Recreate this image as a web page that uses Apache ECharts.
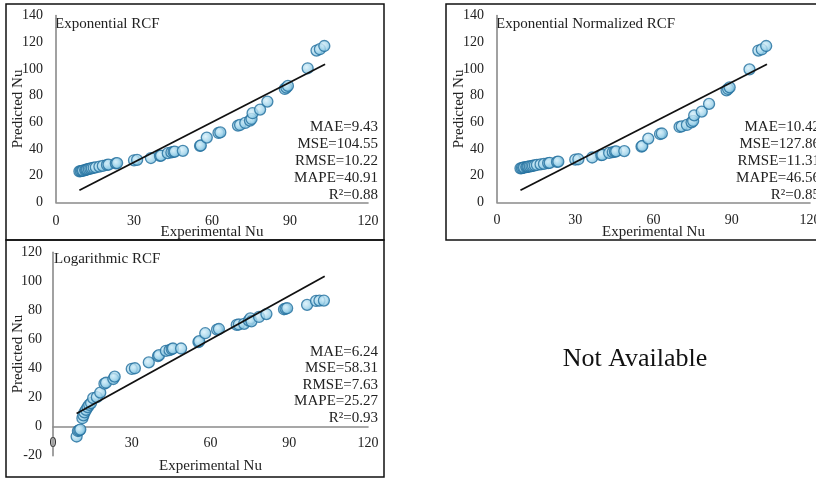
<!DOCTYPE html>
<html><head><meta charset="utf-8">
<script src="https://cdn.jsdelivr.net/npm/echarts@6/dist/echarts.min.js"></script>
<style>html,body{margin:0;padding:0;background:#fff}#c{width:816px;height:479px}</style>
</head><body><div id="c"></div>
<script>
// ---- data ----
const experimentalNu = [9.0, 9.5, 10.0, 10.4, 11.2, 11.6, 12.0, 12.6, 13.2, 13.8, 14.5, 15.3, 16.7, 18.0, 19.6, 20.2, 23.0, 23.5, 30.0, 31.2, 36.5, 40.0, 40.4, 43.0, 44.4, 45.2, 45.7, 48.8, 55.4, 55.7, 58.0, 62.5, 63.2, 70.0, 70.8, 72.8, 74.6, 75.2, 75.6, 78.5, 81.3, 88.0, 88.6, 89.2, 96.8, 100.2, 101.5, 103.2];
const predExponential = [23.2, 23.4, 23.6, 23.8, 24.2, 24.4, 24.7, 25.0, 25.3, 25.6, 25.9, 26.2, 26.8, 27.3, 28.0, 28.3, 29.2, 29.4, 31.5, 31.8, 33.2, 34.8, 35.0, 36.8, 37.4, 37.8, 38.0, 38.6, 42.3, 42.6, 48.5, 52.0, 52.4, 57.5, 58.0, 59.5, 61.3, 62.5, 66.8, 69.5, 75.5, 85.0, 86.0, 87.3, 100.5, 113.8, 114.8, 117.2];
const predExpNormalized = [25.5, 25.7, 25.9, 26.1, 26.4, 26.6, 26.8, 27.0, 27.2, 27.4, 27.7, 28.0, 28.4, 28.8, 29.4, 29.6, 30.3, 30.5, 32.0, 32.3, 33.6, 35.3, 35.5, 37.0, 37.6, 38.0, 38.2, 38.4, 41.8, 42.2, 47.8, 51.2, 51.6, 56.5, 56.9, 58.0, 60.0, 61.0, 65.2, 68.0, 73.8, 84.0, 85.0, 86.2, 99.7, 113.8, 114.6, 117.2];
const predLogarithmic = [-6.8, -3.0, -2.6, -2.0, 5.8, 7.8, 9.8, 11.5, 13.4, 15.0, 16.2, 19.6, 20.3, 23.4, 29.6, 30.2, 32.8, 34.4, 39.7, 40.2, 44.2, 48.6, 49.2, 52.2, 52.6, 53.4, 53.8, 53.8, 58.2, 58.8, 64.3, 66.8, 67.2, 70.0, 70.3, 70.8, 73.0, 74.5, 72.5, 75.5, 77.5, 80.8, 81.2, 81.5, 83.8, 86.5, 86.7, 86.8];
const idealRange = [9, 103.5];
const panelTitles = ['Exponential RCF', 'Exponential Normalized RCF', 'Logarithmic RCF'];
const statsExponential = ['MAE=9.43', 'MSE=104.55', 'RMSE=10.22', 'MAPE=40.91', 'R²=0.88'];
const statsExpNormalized = ['MAE=10.42', 'MSE=127.86', 'RMSE=11.31', 'MAPE=46.56', 'R²=0.85'];
const statsLogarithmic = ['MAE=6.24', 'MSE=58.31', 'RMSE=7.63', 'MAPE=25.27', 'R²=0.93'];
const xAxisName = 'Experimental Nu';
const yAxisName = 'Predicted Nu';
const notAvailableText = 'Not Available';

const FONT = "'Liberation Serif', 'Times New Roman', serif";
const chart = echarts.init(document.getElementById('c'), null, {renderer: 'canvas'});

function pairs(ys) { return experimentalNu.map((x, i) => [x, ys[i]]); }

const markerStyle = {
  color: {type: 'radial', x: 0.4, y: 0.4, r: 0.7,
    colorStops: [{offset: 0, color: '#d8f0fa'}, {offset: 0.55, color: '#9fd3ea'}, {offset: 1, color: '#4b9fca'}]},
  borderColor: '#236f9e', borderWidth: 1.3, opacity: 0.8
};

// grid geometry (pixels)
const grids = [
  {left: 56, top: 15.6, width: 312, height: 186.7},
  {left: 497, top: 15.6, width: 313, height: 186.7},
  {left: 53, top: 252.3, width: 315, height: 203.4}
];
const yRanges = [[0, 140], [0, 140], [-20, 120]];

function xAx(gi, margin, gap) {
  const [ymin, ymax] = yRanges[gi];
  // place the x axis at y = 0 (lifted above grid bottom when the y range goes negative)
  const off = ymin < 0 ? -(0 - ymin) / (ymax - ymin) * grids[gi].height : 0;
  return {type: 'value', gridIndex: gi, min: 0, max: 120, interval: 30, offset: off,
    name: xAxisName, nameLocation: 'middle', nameGap: gap, nameMoveOverlap: false,
    nameTextStyle: {fontFamily: FONT, fontSize: 15, color: '#222'},
    axisLine: {show: true, onZero: false, lineStyle: {color: '#8a8a8a', width: 1.6}},
    axisTick: {show: false}, splitLine: {show: false},
    axisLabel: {fontFamily: FONT, fontSize: 14, color: '#222', margin: margin}};
}
function yAx(gi, gap, margin) {
  return {type: 'value', gridIndex: gi, min: yRanges[gi][0], max: yRanges[gi][1], interval: 20,
    name: yAxisName, nameLocation: 'middle', nameGap: gap, nameMoveOverlap: false,
    nameTextStyle: {fontFamily: FONT, fontSize: 15, color: '#222'},
    axisLine: {show: true, onZero: false, lineStyle: {color: '#8a8a8a', width: 1.6}},
    axisTick: {show: false}, splitLine: {show: false},
    axisLabel: {fontFamily: FONT, fontSize: 14, color: '#222', margin: margin}};
}
function scatter(i, ys) {
  return {type: 'scatter', xAxisIndex: i, yAxisIndex: i, data: pairs(ys),
    symbol: 'circle', symbolSize: 11, itemStyle: markerStyle, silent: true, z: 3};
}
function ideal(i) {
  return {type: 'line', xAxisIndex: i, yAxisIndex: i, data: idealRange.map(v => [v, v]),
    symbol: 'none', lineStyle: {color: '#111', width: 1.8}, silent: true, z: 4};
}
function statsTexts(lines, right, top, step) {
  return lines.map((t, k) => ({type: 'text', x: right, y: top + k * step,
    style: {text: t, fontFamily: FONT, fontSize: 15, fill: '#222', align: 'right', verticalAlign: 'middle'}}));
}
function titleText(t, x, y) {
  return {type: 'text', x: x, y: y, style: {text: t, fontFamily: FONT, fontSize: 15, fill: '#222', align: 'left', verticalAlign: 'middle'}};
}
function box(x1, y1, x2, y2) {
  return {type: 'rect', shape: {x: x1, y: y1, width: x2 - x1, height: y2 - y1},
    style: {fill: 'none', stroke: '#111', lineWidth: 1.5}, z: 0};
}

chart.setOption({
  animation: false,
  backgroundColor: '#fff',
  grid: grids.map(g => Object.assign({outerBoundsMode: 'none', containLabel: false}, g)),
  xAxis: [xAx(0, 12, 22), xAx(1, 11, 22), xAx(2, 10, 32)],
  yAxis: [yAx(0, 30, 13), yAx(1, 30, 13), yAx(2, 27.5, 11)],
  series: [
    scatter(0, predExponential), ideal(0),
    scatter(1, predExpNormalized), ideal(1),
    scatter(2, predLogarithmic), ideal(2)
  ],
  graphic: [
    box(6, 4, 384, 240), box(446, 4, 830, 240), box(6, 240, 384, 477),
    titleText(panelTitles[0], 55, 24),
    titleText(panelTitles[1], 496, 24),
    titleText(panelTitles[2], 54, 259),
    ...statsTexts(statsExponential, 378, 127, 16.9),
    ...statsTexts(statsExpNormalized, 820, 127, 16.9),
    ...statsTexts(statsLogarithmic, 378, 351.7, 16.5),
    {type: 'text', x: 635, y: 359, style: {text: notAvailableText, fontFamily: FONT, fontSize: 26, fill: '#111', align: 'center', verticalAlign: 'middle'}}
  ]
});
</script></body></html>
